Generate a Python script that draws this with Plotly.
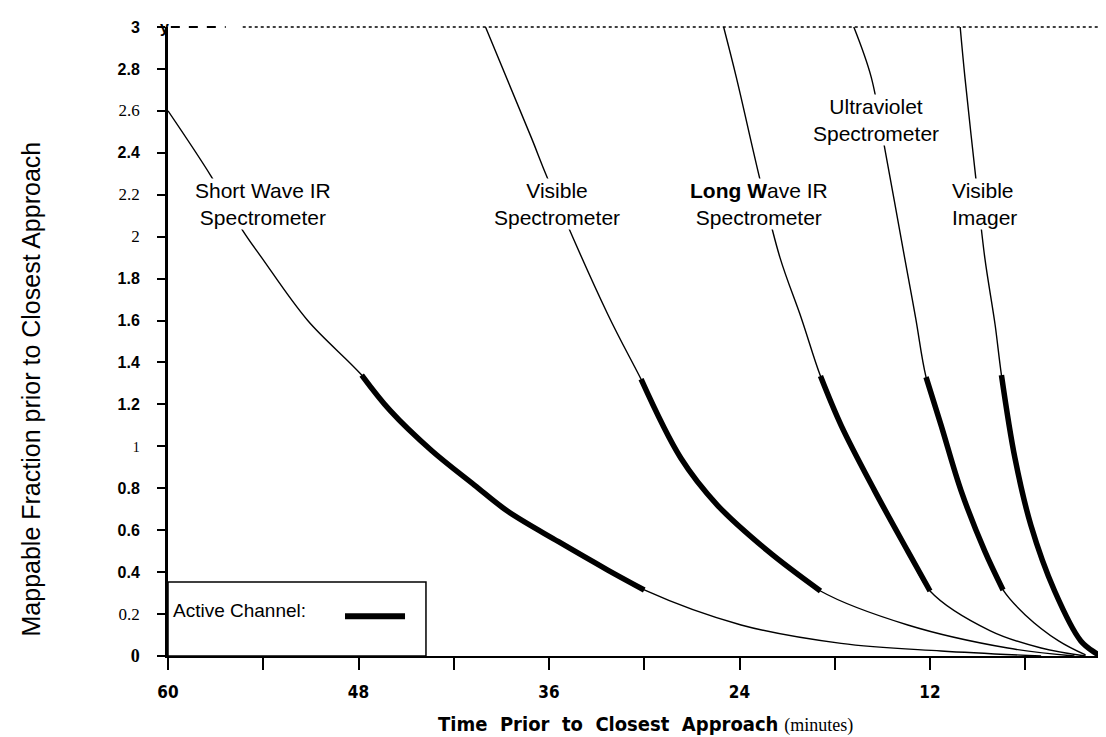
import plotly.graph_objects as go

# ---- data (minutes before closest approach, mappable fraction) ----
swir_t = [60.0, 57.3, 55.3, 54.1, 51.2, 47.8, 46.0, 43.4, 40.7, 38.6, 35.4, 32.3, 30.0, 23.9, 17.6, 11.3, 5.0]
swir_v = [2.60, 2.29, 2.03, 1.90, 1.60, 1.34, 1.17, 0.98, 0.815, 0.69, 0.545, 0.41, 0.315, 0.148, 0.06, 0.024, 0.0]
swir_active = [47.8, 30.0]

vs_t = [40.0, 37.1, 36.1, 32.3, 30.2, 27.7, 25.4, 22.2, 18.9, 13.4, 7.1, 2.9]
vs_v = [3.0, 2.47, 2.28, 1.63, 1.32, 0.944, 0.72, 0.50, 0.31, 0.148, 0.038, 0.0]
vs_active = [30.2, 18.9]

lwir_t = [25.0, 24.2, 22.7, 21.45, 20.1, 18.9, 17.6, 15.5, 13.4, 12.0, 8.2, 5.0, 2.2]
lwir_v = [3.0, 2.76, 2.27, 1.90, 1.61, 1.335, 1.10, 0.79, 0.50, 0.31, 0.12, 0.038, 0.0]
lwir_active = [18.9, 12.0]

uv_t = [16.8, 15.7, 14.8, 13.6, 12.9, 12.25, 11.3, 10.05, 8.55, 7.4, 6.0, 3.9, 2.2]
uv_v = [3.0, 2.76, 2.40, 1.90, 1.61, 1.33, 1.10, 0.79, 0.50, 0.315, 0.196, 0.072, 0.005]
uv_active = [12.25, 7.4]

vi_t = [10.1, 9.8, 9.1, 8.55, 7.9, 7.5, 6.65, 5.65, 4.15, 2.5, 1.4, 0.4]
vi_v = [3.0, 2.76, 2.27, 1.90, 1.58, 1.34, 0.944, 0.625, 0.31, 0.072, 0.005, -0.05]
vi_active = [7.5, 0.4]

x_tickvals = [60, 54, 48, 42, 36, 30, 24, 18, 12, 6]
x_ticktext = ["<b>60</b>", "", "<b>48</b>", "", "<b>36</b>", "", "<b>24</b>", "", "<b>12</b>", ""]

SERIF = 'font-family:Liberation Serif'
y_tickvals = [0, 0.2, 0.4, 0.6, 0.8, 1, 1.2, 1.4, 1.6, 1.8, 2, 2.2, 2.4, 2.6, 2.8, 3]
y_ticktext = [
    f'<span style="{SERIF};font-size:18px"><b>0</b></span>',
    f'<span style="{SERIF};font-size:17px">0.2</span>',
    "<b>0.4</b>", "<b>0.6</b>", "<b>0.8</b>",
    f'<span style="{SERIF};font-size:14px">1</span>',
    "<b>1.2</b>", "<b>1.4</b>", "<b>1.6</b>", "<b>1.8</b>",
    f'<span style="{SERIF};font-size:17px">2</span>',
    f'<span style="{SERIF};font-size:17px">2.2</span>',
    "<b>2.4</b>",
    f'<span style="{SERIF};font-size:17px">2.6</span>',
    "<b>2.8</b>", "<b>3</b>",
]

series = [
    (swir_t, swir_v, swir_active),
    (vs_t, vs_v, vs_active),
    (lwir_t, lwir_v, lwir_active),
    (uv_t, uv_v, uv_active),
    (vi_t, vi_v, vi_active),
]

fig = go.Figure()
for t, v, act in series:
    fig.add_trace(go.Scatter(x=t, y=v, mode="lines",
                             line=dict(color="black", width=1.4, shape="spline", smoothing=1.0),
                             showlegend=False, hoverinfo="skip"))
    at = [a for a in t if act[1] <= a <= act[0]]
    av = [b for a, b in zip(t, v) if act[1] <= a <= act[0]]
    fig.add_trace(go.Scatter(x=at, y=av, mode="lines",
                             line=dict(color="black", width=5.5, shape="spline", smoothing=1.0),
                             showlegend=False, hoverinfo="skip"))

LBL = dict(family="Liberation Sans, Arial, sans-serif", size=21, color="black")


def label(text, x, y, anchor="center"):
    fig.add_annotation(x=x, y=y, xref="x", yref="y", text=text, showarrow=False,
                       font=LBL, bgcolor="white", borderpad=0, xanchor=anchor,
                       yanchor="middle", align=anchor if anchor != "center" else "center")


label("Short Wave IR<br>Spectrometer", 54.0, 2.158)
label("Visible<br>Spectrometer", 35.5, 2.158)
label("<b>Long W</b>ave IR<br>Spectrometer", 22.8, 2.158)
label("Ultraviolet<br>Spectrometer", 15.4, 2.555)
label("Visible<br>Imager", 10.7, 2.158, "left")

# legend box
fig.add_shape(type="rect", xref="x", yref="y", x0=60, x1=43.75, y0=0, y1=0.353,
              line=dict(color="black", width=1.5))
fig.add_annotation(x=59.8, y=0.215, xref="x", yref="y", text="Active Channel:",
                   showarrow=False, xanchor="left", yanchor="middle",
                   font=dict(family="Liberation Sans, Arial, sans-serif", size=19, color="black"))
fig.add_shape(type="line", xref="x", yref="y", x0=48.85, x1=45.07, y0=0.19, y1=0.19,
              line=dict(color="black", width=6))

# top border (dashed then dotted)
fig.add_shape(type="line", xref="paper", yref="paper", x0=0.003, x1=0.061, y0=1.0, y1=1.0,
              line=dict(color="black", width=2, dash="dash"))
fig.add_shape(type="line", xref="paper", yref="paper", x0=0.079, x1=1.0, y0=1.0, y1=1.0,
              line=dict(color="black", width=1.3, dash="dot"))
fig.add_annotation(x=-0.004, y=1.0, xref="paper", yref="paper", text="<b>y</b>",
                   showarrow=False, xanchor="center", yanchor="middle",
                   font=dict(family="Liberation Sans", size=16, color="black"))

# axis titles
fig.add_annotation(x=-0.145, y=0.425, xref="paper", yref="paper",
                   text="Mappable Fraction prior to Closest Approach", textangle=-90,
                   showarrow=False, xanchor="center", yanchor="middle",
                   font=dict(family="Liberation Sans, Arial, sans-serif", size=25, color="black"))
fig.add_annotation(x=0.505, y=-0.108, xref="paper", yref="paper",
                   text="<b>Time\u00a0 Prior\u00a0 to\u00a0 Closest\u00a0 Approach</b> "
                        '<span style="font-family:Liberation Serif;font-size:18px">(minutes)</span>',
                   showarrow=False, xanchor="center", yanchor="middle",
                   font=dict(family="Liberation Sans Narrow, DejaVu Sans Condensed, Arial Narrow, sans-serif",
                             size=20, color="black"))

fig.update_xaxes(range=[60, 0.41], tickvals=x_tickvals, ticktext=x_ticktext,
                 ticks="outside", ticklen=12, tickwidth=1.5, tickcolor="black",
                 showline=True, linecolor="black", linewidth=2,
                 showgrid=False, zeroline=False, ticklabelstandoff=8,
                 tickfont=dict(family="Liberation Sans Narrow, DejaVu Sans Condensed, Arial Narrow, sans-serif",
                               size=17, color="black"))
fig.update_yaxes(range=[0, 3], tickvals=y_tickvals, ticktext=y_ticktext,
                 ticks="outside", ticklen=8, tickwidth=1.5, tickcolor="black",
                 showline=True, linecolor="black", linewidth=3,
                 showgrid=False, zeroline=False, ticklabelstandoff=14,
                 tickfont=dict(family="Liberation Sans, Arial, sans-serif", size=16, color="black"))

fig.update_layout(width=1106, height=737, margin=dict(l=160, r=0, t=19, b=89),
                  plot_bgcolor="white", paper_bgcolor="white", showlegend=False)

fig.write_html("out.html")
